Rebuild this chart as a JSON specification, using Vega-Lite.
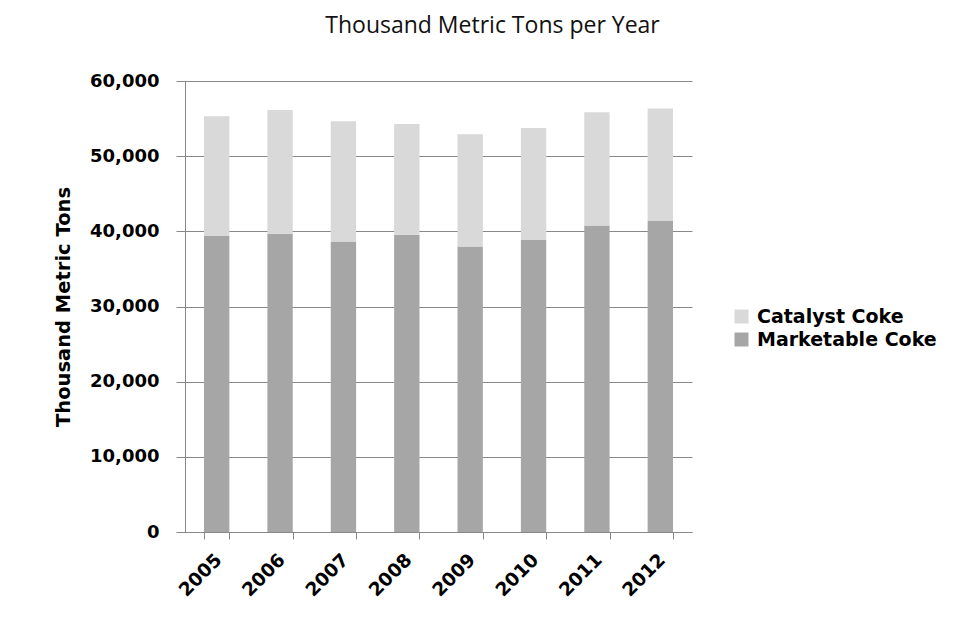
{
  "$schema": "https://vega.github.io/schema/vega-lite/v6.json",
  "width": 507,
  "height": 451,
  "autosize": "none",
  "padding": {"left": 185, "top": 81, "right": 266, "bottom": 91},
  "background": "white",
  "title": {
    "text": "Thousand Metric Tons per Year",
    "font": "Open Sans",
    "fontSize": 23,
    "fontWeight": "normal",
    "color": "#111",
    "anchor": "middle",
    "frame": "group",
    "baseline": "alphabetic",
    "dx": 54,
    "offset": 16
  },
  "data": {
    "values": [
      {"year": "2005", "type": "Marketable Coke", "value": 39370},
      {"year": "2006", "type": "Marketable Coke", "value": 39690},
      {"year": "2007", "type": "Marketable Coke", "value": 38660},
      {"year": "2008", "type": "Marketable Coke", "value": 39550},
      {"year": "2009", "type": "Marketable Coke", "value": 37990},
      {"year": "2010", "type": "Marketable Coke", "value": 38840},
      {"year": "2011", "type": "Marketable Coke", "value": 40760},
      {"year": "2012", "type": "Marketable Coke", "value": 41430},
      {"year": "2005", "type": "Catalyst Coke", "value": 15930},
      {"year": "2006", "type": "Catalyst Coke", "value": 16460},
      {"year": "2007", "type": "Catalyst Coke", "value": 15970},
      {"year": "2008", "type": "Catalyst Coke", "value": 14720},
      {"year": "2009", "type": "Catalyst Coke", "value": 14940},
      {"year": "2010", "type": "Catalyst Coke", "value": 14900},
      {"year": "2011", "type": "Catalyst Coke", "value": 15080},
      {"year": "2012", "type": "Catalyst Coke", "value": 14900}
    ]
  },
  "mark": {"type": "bar"},
  "encoding": {
    "x": {
      "field": "year",
      "type": "ordinal",
      "scale": {"paddingInner": 0.6, "paddingOuter": 0.3},
      "axis": {
        "title": null,
        "labelAngle": -45,
        "labelFont": "DejaVu Sans",
        "labelFontSize": 18.5,
        "labelFontWeight": "bold",
        "labelColor": "#000",
        "labelPadding": 11,
        "labelOffset": -5,
        "domainColor": "#888",
        "tickColor": "#888",
        "tickSize": 7,
        "tickBand": "extent",
        "grid": false
      }
    },
    "y": {
      "field": "value",
      "type": "quantitative",
      "stack": "zero",
      "scale": {"domain": [0, 60000], "nice": false},
      "axis": {
        "title": "Thousand Metric Tons",
        "titleFont": "DejaVu Sans",
        "titleFontSize": 19.5,
        "titleFontWeight": "bold",
        "titleColor": "#000",
        "titlePadding": 16,
        "values": [0, 10000, 20000, 30000, 40000, 50000, 60000],
        "format": ",d",
        "labelFont": "DejaVu Sans",
        "labelFontSize": 18,
        "labelFontWeight": "bold",
        "labelColor": "#000",
        "labelPadding": 17,
        "domainColor": "#888",
        "tickColor": "#888",
        "tickSize": 9,
        "gridColor": "#888",
        "gridWidth": 1
      }
    },
    "color": {
      "field": "type",
      "type": "nominal",
      "scale": {
        "domain": ["Catalyst Coke", "Marketable Coke"],
        "range": ["#d9d9d9", "#a6a6a6"]
      },
      "legend": {
        "title": null,
        "orient": "none",
        "legendX": 547,
        "legendY": 226,
        "padding": 0,
        "symbolType": "square",
        "symbolSize": 196,
        "symbolStrokeWidth": 0,
        "labelFont": "DejaVu Sans",
        "labelFontSize": 19,
        "labelFontWeight": "bold",
        "labelColor": "#000",
        "labelOffset": 6,
        "labelLimit": 300,
        "rowPadding": 3
      }
    },
    "order": {"field": "type", "sort": "descending"}
  },
  "config": {
    "view": {"stroke": null}
  }
}
